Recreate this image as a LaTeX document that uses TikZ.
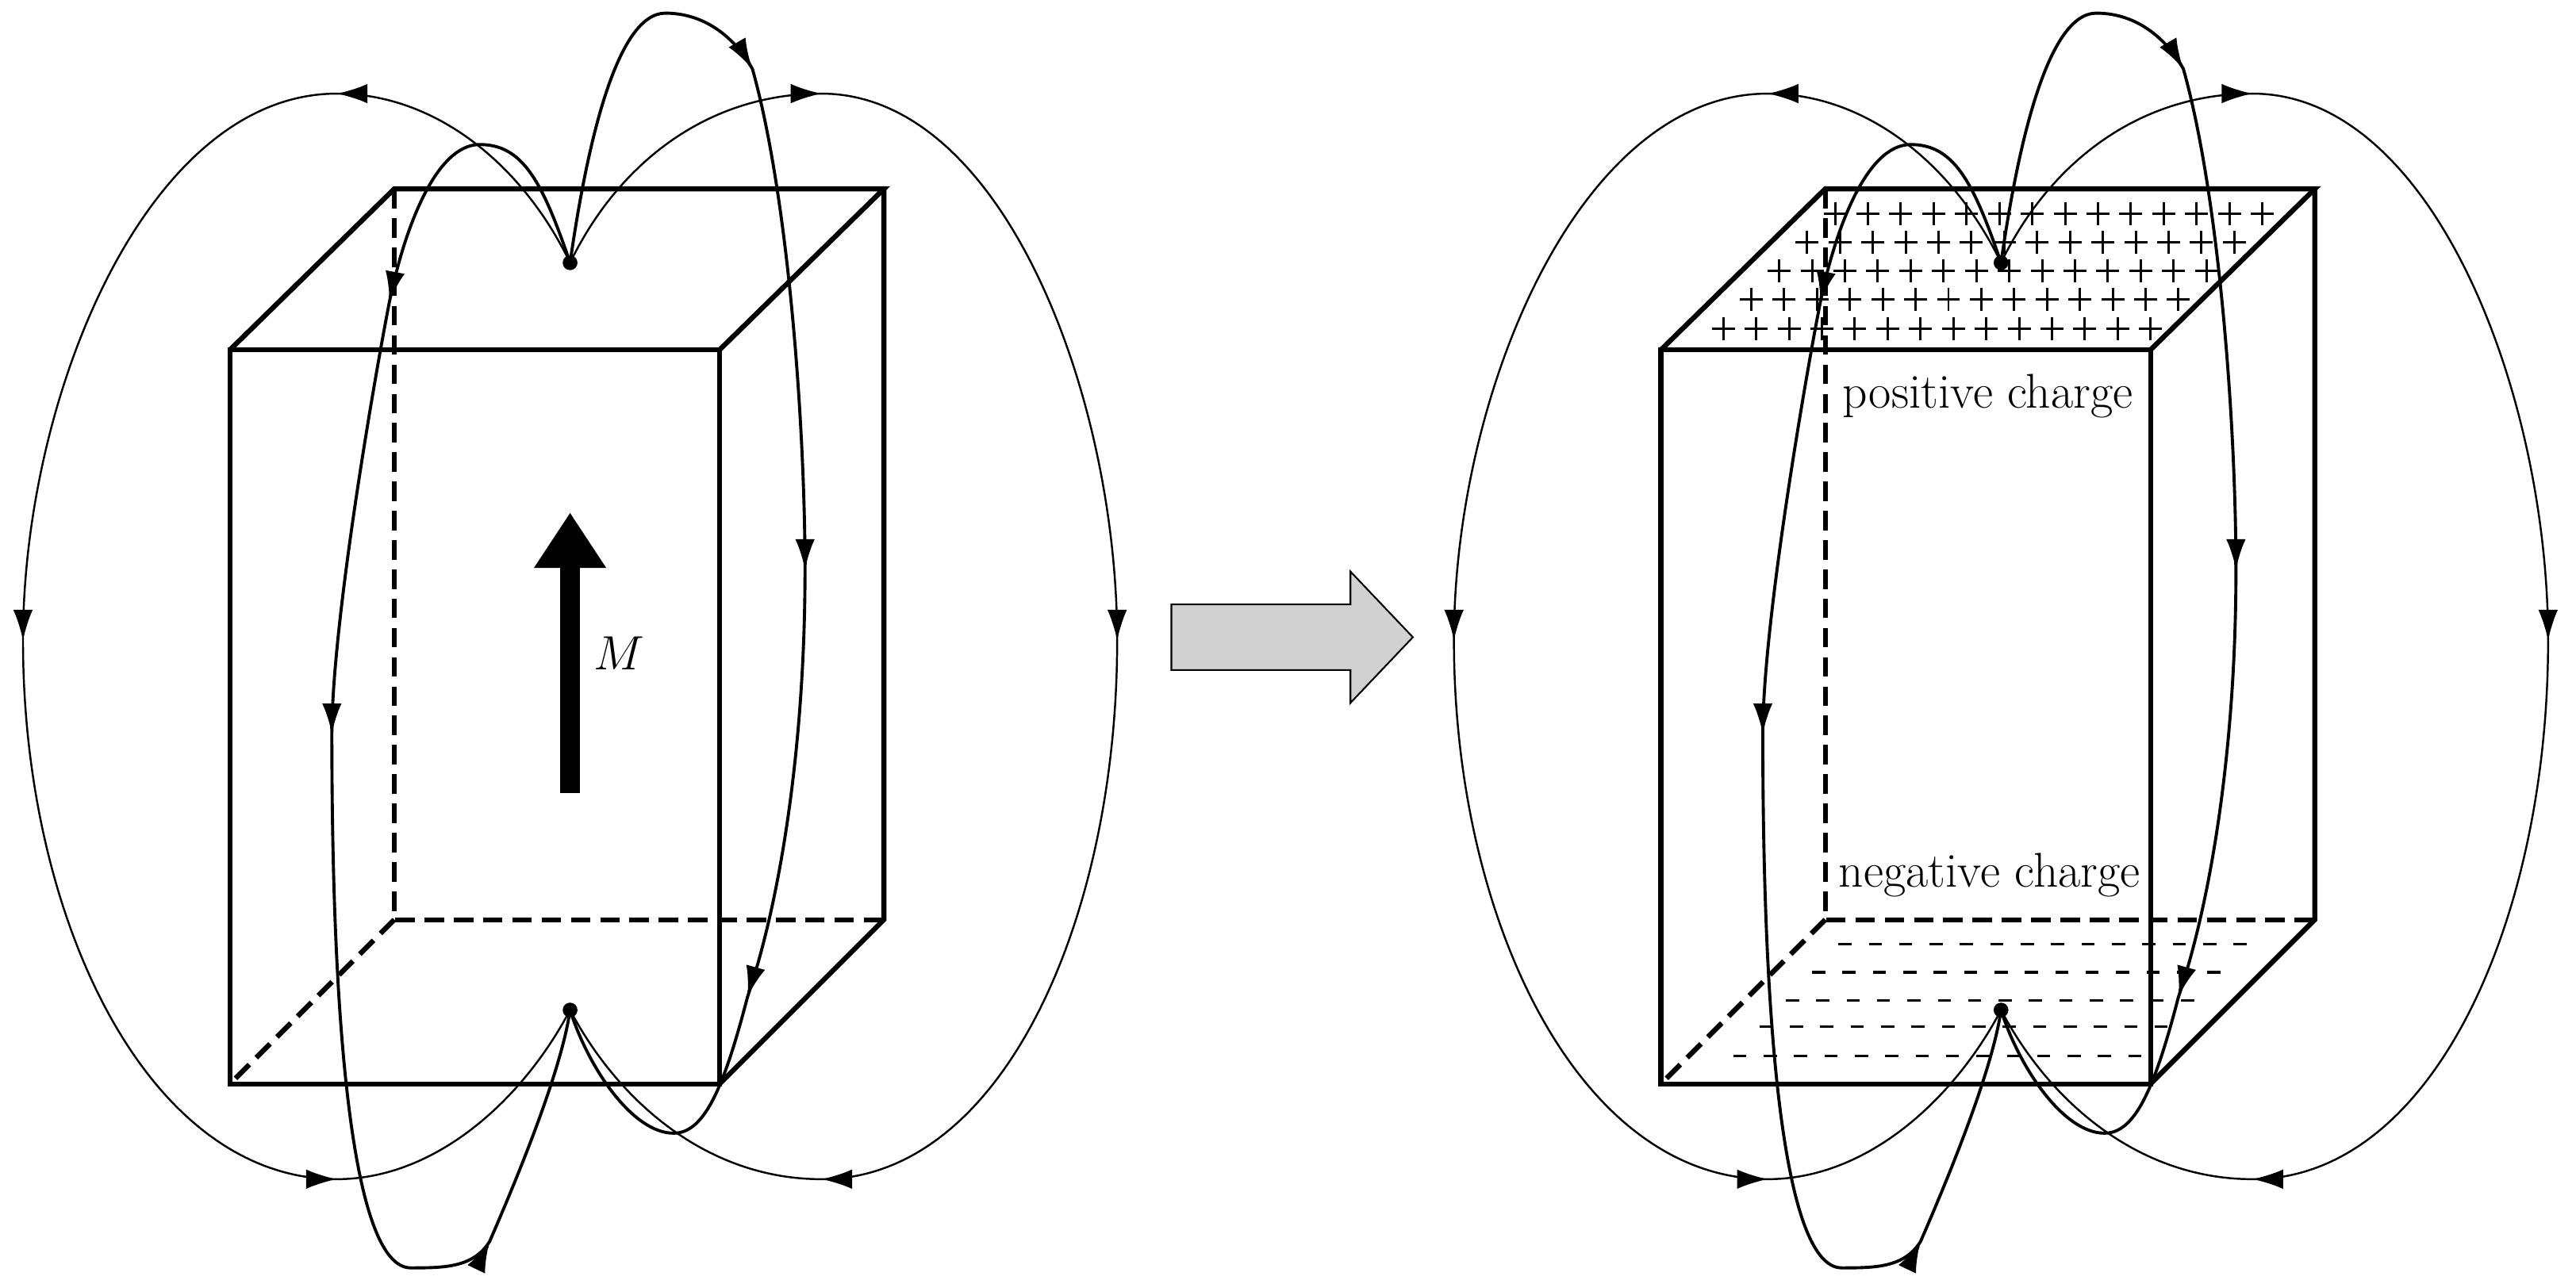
\documentclass[tikz,border=0pt]{standalone}
\usetikzlibrary{arrows.meta,calc}
\begin{document}
\begin{tikzpicture}[x=0.02071cm,y=-0.02071cm,
  box/.style={line width=1.8pt,line join=miter},
  hid/.style={box,dash pattern=on 7pt off 3.5pt},
  fl/.style={line width=0.7pt},
  fli/.style={line width=1.1pt},
  tip/.style={-{Latex[length=11pt,width=7pt]}},
  lab/.style={font=\fontsize{17.5}{20}\selectfont,inner sep=0pt}]
\useasboundingbox (0,0) rectangle (1568,779);
\newcommand\magnet{%
  \draw[hid] (240,115) -- (240,560) -- (538,560);
  \draw[hid] (240,560) -- (140,660);
  \draw[box] (140,213) rectangle (438,660);
  \draw[box] (140,213) -- (240,115) -- (538,115) -- (438,213);
  \draw[box] (538,115) -- (538,560) -- (438,660);
}
\newcommand\field{%
  \coordinate (T) at (347,160);
  \coordinate (B) at (347,615);
  % outer left
  \coordinate (a1) at (205,57); \coordinate (a2) at (14,390); \coordinate (a3) at (205,718);
  \draw[fl] (T) .. controls (318,100) and (265,57) .. (a1) .. controls (90,57) and (14,240) .. (a2)
     .. controls (14,560) and (90,718) .. (a3) .. controls (265,718) and (318,670) .. (B);
  \draw[fl,tip] ($(a1)+(3,0)$) -- (a1);
  \draw[fl,tip] ($(a2)+(0,-3)$) -- (a2);
  \draw[fl,tip] ($(a3)+(-3,0)$) -- (a3);
  % outer right
  \coordinate (b1) at (500,57); \coordinate (b2) at (680,390); \coordinate (b3) at (500,718);
  \draw[fl] (T) .. controls (376,100) and (430,57) .. (b1) .. controls (610,57) and (680,240) .. (b2)
     .. controls (680,560) and (610,718) .. (b3) .. controls (430,718) and (376,670) .. (B);
  \draw[fl,tip] ($(b1)+(-3,0)$) -- (b1);
  \draw[fl,tip] ($(b2)+(0,-3)$) -- (b2);
  \draw[fl,tip] ($(b3)+(3,0)$) -- (b3);
  % inner left
  \coordinate (c1) at (237,184); \coordinate (c2) at (202,447); \coordinate (c3) at (298,756);
  \draw[fli] (T) .. controls (330,110) and (318,88) .. (292,88) .. controls (265,88) and (246,140) .. (c1)
     .. controls (228,230) and (202,380) .. (c2)
     .. controls (202,630) and (215,772) .. (250,772) .. controls (270,772) and (288,772) .. (c3)
     .. controls (318,710) and (342,650) .. (B);
  \draw[fli,tip] ($(c1)+(0.55,-2.9)$) -- (c1);
  \draw[fli,tip] ($(c2)+(0,-3)$) -- (c2);
  \draw[fli,tip] ($(c3)+(-1.3,2.7)$) -- (c3);
  % inner right
  \coordinate (d1) at (458,42); \coordinate (d2) at (490,347); \coordinate (d3) at (455,607);
  \draw[fli] (T) .. controls (357,90) and (375,8) .. (405,8) .. controls (430,8) and (448,24) .. (d1)
     .. controls (480,120) and (490,260) .. (d2)
     .. controls (490,450) and (476,545) .. (d3)
     .. controls (440,665) and (428,690) .. (410,690) .. controls (385,690) and (358,650) .. (B);
  \draw[fli,tip] ($(d1)+(-1.5,-2.6)$) -- (d1);
  \draw[fli,tip] ($(d2)+(0,-3)$) -- (d2);
  \draw[fli,tip] ($(d3)+(0.8,-2.9)$) -- (d3);
  \fill (T) circle (4.5);
  \fill (B) circle (4.5);
}
% left magnet
\magnet
\field
\coordinate (Ms) at (347,483); \coordinate (Me) at (347,312);
\draw[line width=7pt,-{Triangle[length=7mm,width=8.6mm]}] (Ms) -- (Me);
\node[font=\fontsize{18}{20}\selectfont,inner sep=0pt] (M) at (377,398) {$M$};
% big arrow
\draw[line width=0.6pt,fill=black!18] (713,368) -- (822,368) -- (822,348) -- (860,388) -- (822,428) -- (822,408) -- (713,408) -- cycle;
% right magnet
\begin{scope}[shift={(871,0)}]
\magnet
\field
\foreach \k in {0,...,4}{
  \foreach \i in {0,...,13}{
    \draw[line width=0.85pt] (246-17*\k+20*\i-7,130+17.5*\k) -- ++(14,0)
      (246-17*\k+20*\i,130+17.5*\k-7) -- ++(0,14);
  }
}
\foreach \k/\y in {0/575,1/592,2/609,3/625,4/643}{
  \foreach \i in {0,...,13}{
    \draw[line width=0.9pt] (248-16*\k+18.5*\i,\y) -- +(8,0);
  }
}
\end{scope}
\node[lab] (pos) at (1210,241) {positive charge};
\node[lab] (neg) at (1211,533) {negative charge};
\end{tikzpicture}
\end{document}
